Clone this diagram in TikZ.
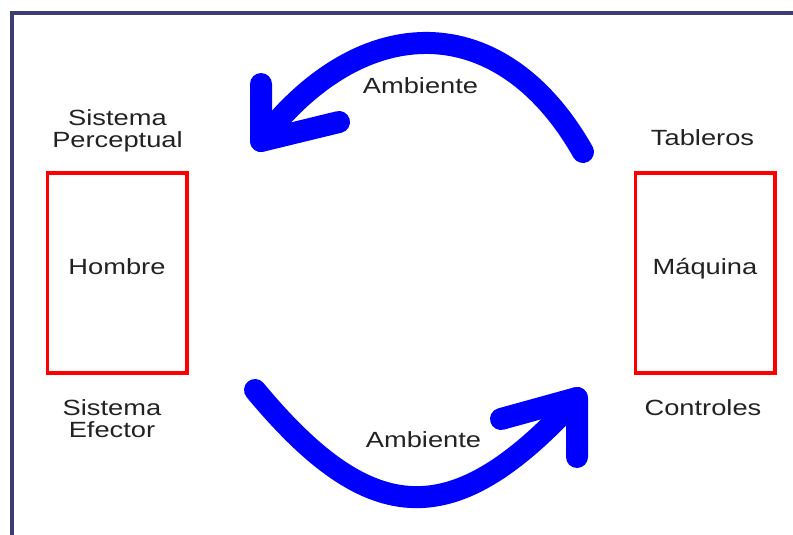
\documentclass[tikz,border=0pt]{standalone}
\usepackage{fontspec}
\setmainfont[FakeStretch=1.24]{Liberation Sans}
\definecolor{framecol}{HTML}{3D3D73}
\definecolor{flowblue}{HTML}{0000FF}
\definecolor{boxred}{HTML}{FF0000}
\definecolor{inkgray}{HTML}{222222}
\begin{document}
\begin{tikzpicture}[x=1pt,y=-1pt,
  txt/.style={font=\fontsize{22}{22}\selectfont, text=inkgray, inner sep=0pt, align=center},
  unit/.style={txt, draw=boxred, line width=3.5pt, minimum width=139.5pt,
    minimum height=200pt, text height=15.8pt, text depth=12pt},
  flow/.style={draw=flowblue, line width=22pt, line cap=round, line join=round}]
\useasboundingbox (0,0) rectangle (793,535);
% outer frame (top and left edges)
\draw[framecol, line width=4pt] (12,545) -- (12,13.5) -- (800,13.5);

% the two subsystems
\node[unit] (hombre) at (117,273) {Hombre};
\node[unit] (maquina) at (705,272.8) {Máquina};

% labels around the subsystems
\node[txt] (perceptual) at (117.5,131) {Sistema\\Perceptual};
\node[txt] (efector) at (112,419) {Sistema\\Efector};
\node[txt, anchor=base] (tableros) at (702.5,145) {Tableros};
\node[txt, anchor=base] (controles) at (703,415) {Controles};

% environment flow: machine -> man (top)
\coordinate (topTail) at (583,152);
\coordinate (topTip) at (261,141);
\coordinate (topBarbA) at (261,84);
\coordinate (topBarbB) at (339,122);
\draw[flow] (topTail) .. controls (502,9) and (363,8) .. (topTip);
\draw[flow] (topBarbA) -- (topTip) -- (topBarbB);
\node[txt, anchor=base] (ambtop) at (420.5,94) {Ambiente};

% environment flow: man -> machine (bottom)
\coordinate (botTail) at (255,390);
\coordinate (botTip) at (577,398);
\coordinate (botBarbA) at (577,457);
\coordinate (botBarbB) at (501,419);
\draw[flow] (botTail) .. controls (372,531) and (455,532) .. (botTip);
\draw[flow] (botBarbA) -- (botTip) -- (botBarbB);
\node[txt, anchor=base] (ambbottom) at (423.5,447) {Ambiente};
\end{tikzpicture}
\end{document}
